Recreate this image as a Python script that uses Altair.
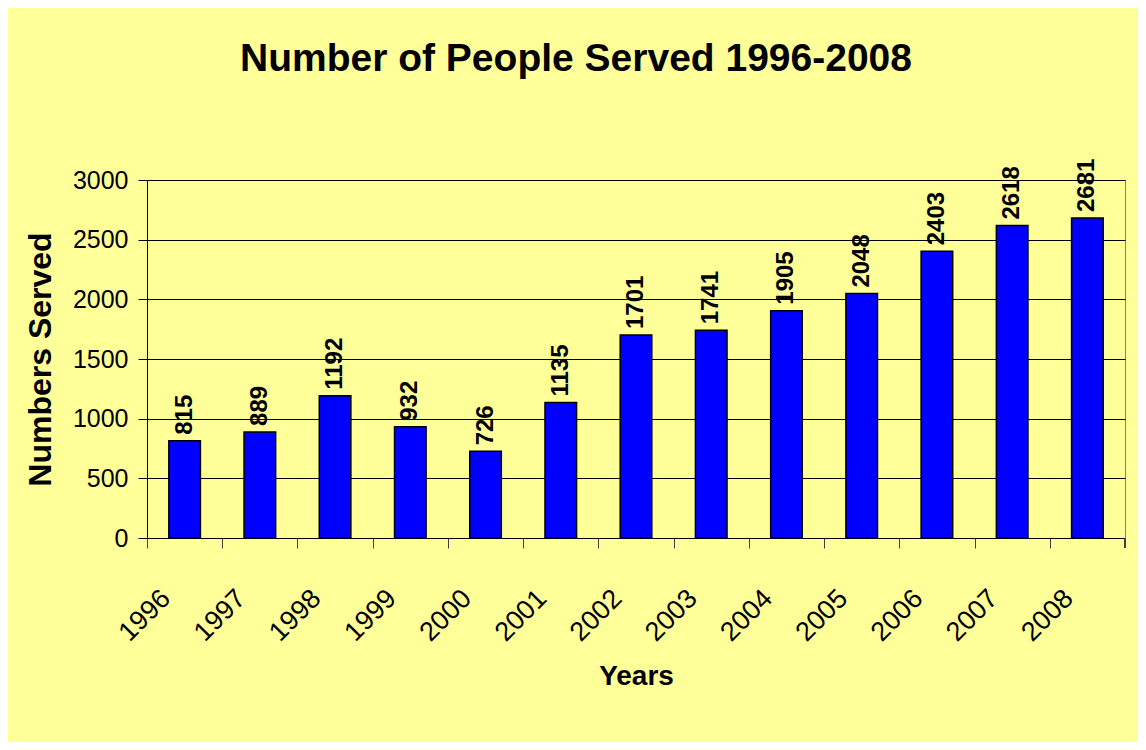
import altair as alt
import pandas as pd

years = ["1996", "1997", "1998", "1999", "2000", "2001", "2002",
         "2003", "2004", "2005", "2006", "2007", "2008"]
served = [815, 889, 1192, 932, 726, 1135, 1701, 1741, 1905, 2048, 2403, 2618, 2681]

df = pd.DataFrame({"Year": years, "Served": served})

W, H = 978, 358
PI, PO = 0.58, 0.29
step = W / len(years)

x_enc = alt.X(
    "Year:N", sort=years,
    scale=alt.Scale(paddingInner=PI, paddingOuter=PO),
    axis=alt.Axis(
        title="Years", titleFontSize=28, titleFontWeight="bold",
        titleY=138, titleBaseline="middle",
        labelAngle=-45, labelAlign="right", labelBaseline="middle",
        labelFontSize=27, labelPadding=46, labelOffset=3, labelColor="black",
        bandPosition=0, tickOffset=-PO * step, tickSize=10,
        tickColor="#404040", domainColor="black", grid=False,
    ),
)
y_enc = alt.Y(
    "Served:Q",
    scale=alt.Scale(domain=[0, 3000], nice=False),
    axis=alt.Axis(
        title="Numbers Served", titleFontSize=32, titleFontWeight="bold",
        titleX=-107, titleY=H / 2, titleBaseline="middle", titleAlign="center",
        titleAngle=270, format="d",
        values=[0, 500, 1000, 1500, 2000, 2500, 3000],
        labelFontSize=25, labelPadding=10, labelColor="black",
        tickSize=9, tickColor="black", domainColor="black",
        grid=True, gridColor="black", gridOpacity=1, gridWidth=1,
    ),
)

bars = alt.Chart(df).mark_bar(color="#0000FF", stroke="black", strokeWidth=1.5).encode(
    x=x_enc, y=y_enc
)
labels = alt.Chart(df).mark_text(
    angle=270, align="left", baseline="middle", dx=6,
    fontSize=24, fontWeight="bold", color="black",
).encode(x=alt.X("Year:N", sort=years), y="Served:Q", text="Served:Q")

end_tick = alt.Chart(df).mark_rule(color="#404040").encode(
    x=alt.value(W), y=alt.value(H), y2=alt.value(H + 10)
)

chart = (bars + labels + end_tick).properties(
    width=W, height=H,
    autosize=alt.AutoSizeParams(type="none"),
    padding={"left": 139, "top": 172, "right": 13, "bottom": 204},
    background="#FFFF99",
    title=alt.TitleParams(
        "Number of People Served 1996-2008", fontSize=39, fontWeight="bold",
        color="black", anchor="middle", dx=-60, offset=49, baseline="alphabetic",
    ),
).configure(font="Liberation Sans").configure_view(stroke="#808080", strokeWidth=1)

chart.save("out.html", embed_options={"renderer": "svg", "actions": False})
